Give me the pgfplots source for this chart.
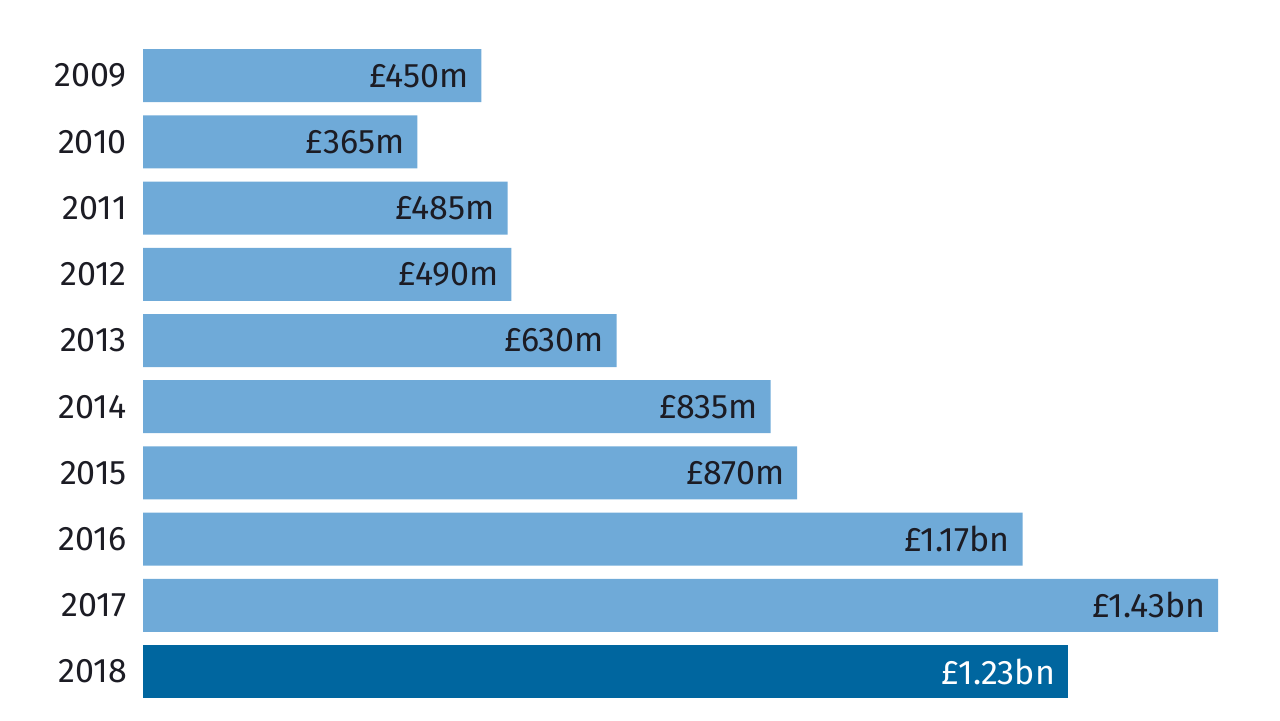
\documentclass[border=0pt]{standalone}
\usepackage{fontspec}
\setmainfont{Fira Sans}
\usepackage{pgfplots}
\pgfplotsset{compat=1.18}
\definecolor{lightbar}{HTML}{6FAAD8}
\definecolor{darkbar}{HTML}{00669F}
\definecolor{txt}{HTML}{1C1C24}
\begin{document}
\fontsize{17}{20}\selectfont
\begin{tikzpicture}
\useasboundingbox (0,0) rectangle (640pt,360pt);
\begin{axis}[
  at={(71.5pt,7.7pt)}, anchor=south west,
  scale only axis,
  width=537.5pt, height=331pt,
  xmin=0, xmax=1430,
  ymin=-0.5, ymax=9.5,
  y dir=reverse,
  xbar, bar width=26.5pt, bar shift=0pt,
  axis line style={draw=none},
  xtick=\empty,
  ytick={0,...,9},
  yticklabels={2009,2010,2011,2012,2013,2014,2015,2016,2017,2018},
  ytick style={draw=none},
  yticklabel style={font=\fontsize{17}{20}\selectfont, text=txt, xshift=2pt},
  point meta=explicit symbolic,
  nodes near coords,
  every node near coord/.append style={anchor=east, xshift=-0.5pt, font=\fontsize{17}{20}\selectfont},
  clip=false,
]
\addplot[fill=lightbar, draw=none, every node near coord/.append style={text=txt}] coordinates {
  (450,0) [£450m]
  (365,1) [£365m]
  (485,2) [£485m]
  (490,3) [£490m]
  (630,4) [£630m]
  (835,5) [£835m]
  (870,6) [£870m]
  (1170,7) [£1.17bn]
  (1430,8) [£1.43bn]
};
\addplot[fill=darkbar, draw=none, every node near coord/.append style={text=white}] coordinates {
  (1230,9) [£1.23bn]
};
\end{axis}
\end{tikzpicture}
\end{document}
